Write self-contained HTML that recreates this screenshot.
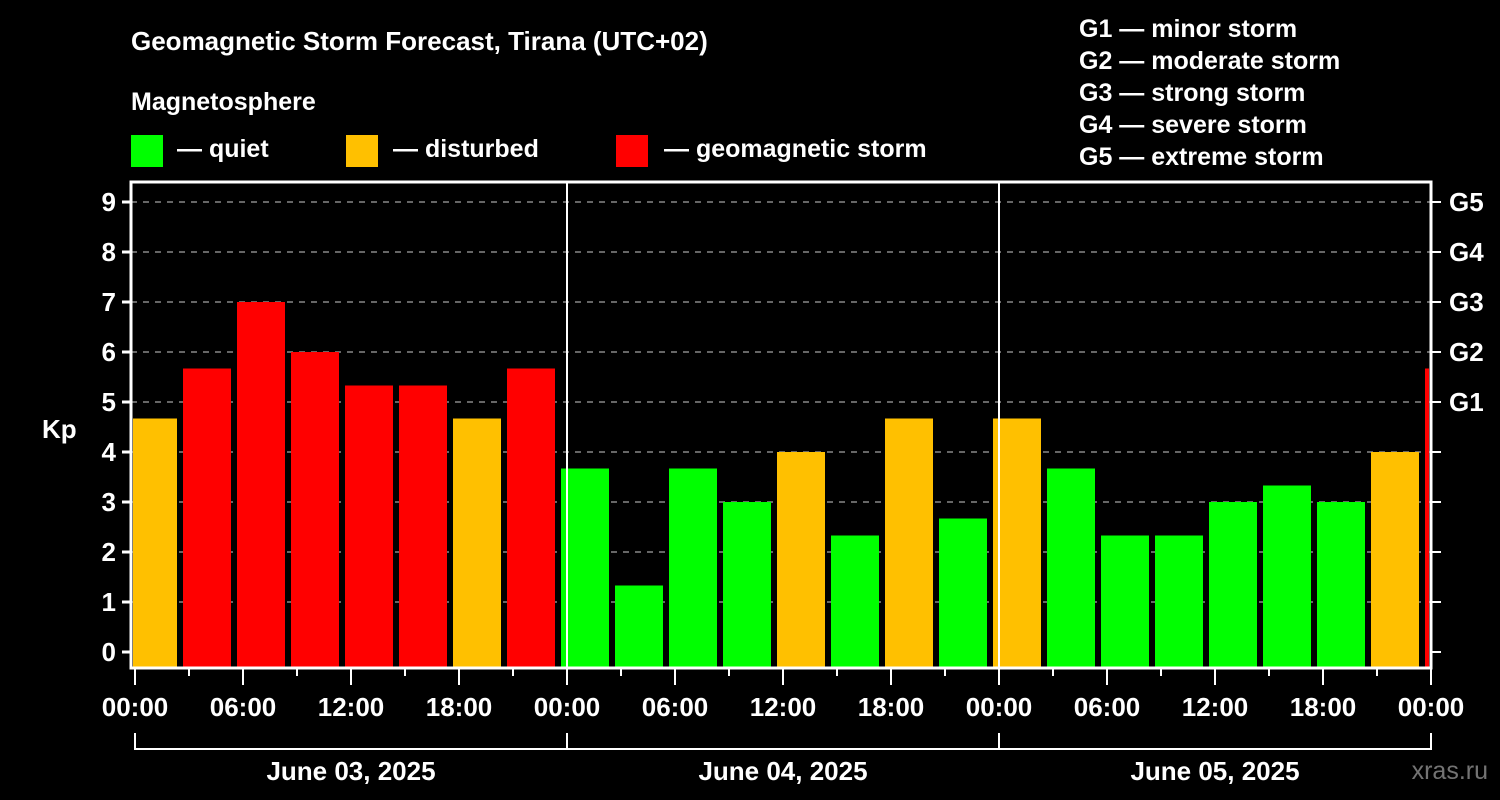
<!DOCTYPE html>
<html><head><meta charset="utf-8"><style>
html,body{margin:0;padding:0;background:#000;}
svg{display:block;font-family:"Liberation Sans",Arial,sans-serif;font-weight:bold;}
</style></head><body>
<svg id="chart" width="1500" height="800" viewBox="0 0 1500 800">
<rect width="1500" height="800" fill="#000"/>
<text x="131" y="50" fill="#fff" font-size="26">Geomagnetic Storm Forecast, Tirana (UTC+02)</text>
<text x="131" y="110" fill="#fff" font-size="25">Magnetosphere</text>
<g><rect x="131" y="135" width="32" height="32" fill="#00ff00"/><text x="177" y="157" fill="#fff" font-size="25">— quiet</text></g>
<g><rect x="346" y="135" width="32" height="32" fill="#ffc000"/><text x="393" y="157" fill="#fff" font-size="25">— disturbed</text></g>
<g><rect x="616" y="135" width="32" height="32" fill="#ff0000"/><text x="664" y="157" fill="#fff" font-size="25">— geomagnetic storm</text></g>
<g fill="#fff" font-size="25">
<text x="1079" y="37">G1 — minor storm</text>
<text x="1079" y="69">G2 — moderate storm</text>
<text x="1079" y="101">G3 — strong storm</text>
<text x="1079" y="133">G4 — severe storm</text>
<text x="1079" y="165">G5 — extreme storm</text>
</g>
<text x="42" y="438" fill="#fff" font-size="26">Kp</text>
<text x="1488" y="779" fill="#fff" font-size="25" text-anchor="end" opacity="0.45" font-weight="normal">xras.ru</text>
<g id="plot"></g>
</svg>
<script>
const kpValues=[4.67,5.67,7,6,5.33,5.33,4.67,5.67,3.67,1.33,3.67,3,4,2.33,4.67,2.67,4.67,3.67,2.33,2.33,3,3.33,3,4,5.67];
const yTicks=[0,1,2,3,4,5,6,7,8,9];
const gLabels=[[5,"G1"],[6,"G2"],[7,"G3"],[8,"G4"],[9,"G5"]];
const xTickLabels=["00:00","06:00","12:00","18:00","00:00","06:00","12:00","18:00","00:00","06:00","12:00","18:00","00:00"];
const dayLabels=["June 03, 2025","June 04, 2025","June 05, 2025"];
const NS="http://www.w3.org/2000/svg";
const g=document.getElementById('plot');
const L=131,R=1431,T=182,B=668,X0=135;
const y=v=>652-v*50;
const xh=h=>X0+h*18; // hours since start
function mk(t,a,p){const e=document.createElementNS(NS,t);for(const k in a)e.setAttribute(k,a[k]);(p||g).appendChild(e);return e;}
// clip
const defs=mk('defs',{});const cp=mk('clipPath',{id:'cp'},defs);mk('rect',{x:L+2,y:T,width:R-L-4,height:B-T},cp);
// grid
yTicks.forEach(v=>{if(v>0){const l=mk('line',{x1:L,x2:R,y1:y(v),y2:y(v),stroke:'#888','stroke-width':1.5,'stroke-dasharray':'6,6'});}});
// bars
const bg=mk('g',{'clip-path':'url(#cp)'});
kpValues.forEach((v,i)=>{const c=xh(1+3*i)+0;const col=v>=5?'#ff0000':(v>=4?'#ffc000':'#00ff00');
const r=mk('rect',{x:c-24,y:y(v),width:48,height:B-y(v),fill:col},bg);
});
// day separators
[1,2].forEach(d=>{const l=mk('line',{x1:xh(24*d),x2:xh(24*d),y1:T,y2:B,stroke:'#fff','stroke-width':2});});
// frame
const f=mk('rect',{x:L,y:T,width:R-L,height:B-T,fill:'none',stroke:'#fff','stroke-width':3});

// y ticks/labels
yTicks.forEach(v=>{mk('line',{x1:122,x2:L,y1:y(v),y2:y(v),stroke:'#fff','stroke-width':3});
mk('line',{x1:R,x2:1441,y1:y(v),y2:y(v),stroke:'#fff','stroke-width':2});
const t=mk('text',{x:116,y:y(v)+9,fill:'#fff','font-size':26,'text-anchor':'end'});t.textContent=v;
});
gLabels.forEach(([v,s])=>{const t=mk('text',{x:1449,y:y(v)+9,fill:'#fff','font-size':26});t.textContent=s;
});
// x ticks
for(let h=0;h<=72;h+=3){mk('line',{x1:xh(h),x2:xh(h),y1:B,y2:B+(h%6===0?17:8),stroke:'#fff','stroke-width':2});}
xTickLabels.forEach((s,i)=>{const t=mk('text',{x:xh(6*i),y:716,fill:'#fff','font-size':26,'text-anchor':'middle'});t.textContent=s;
});
// day bracket
mk('line',{x1:xh(0),x2:xh(72),y1:749,y2:749,stroke:'#fff','stroke-width':2});
[0,1,2,3].forEach(d=>mk('line',{x1:xh(24*d),x2:xh(24*d),y1:733,y2:750,stroke:'#fff','stroke-width':2}));
dayLabels.forEach((s,i)=>{const t=mk('text',{x:xh(24*i+12),y:780,fill:'#fff','font-size':26,'text-anchor':'middle'});t.textContent=s;
});
</script>
</body></html>
